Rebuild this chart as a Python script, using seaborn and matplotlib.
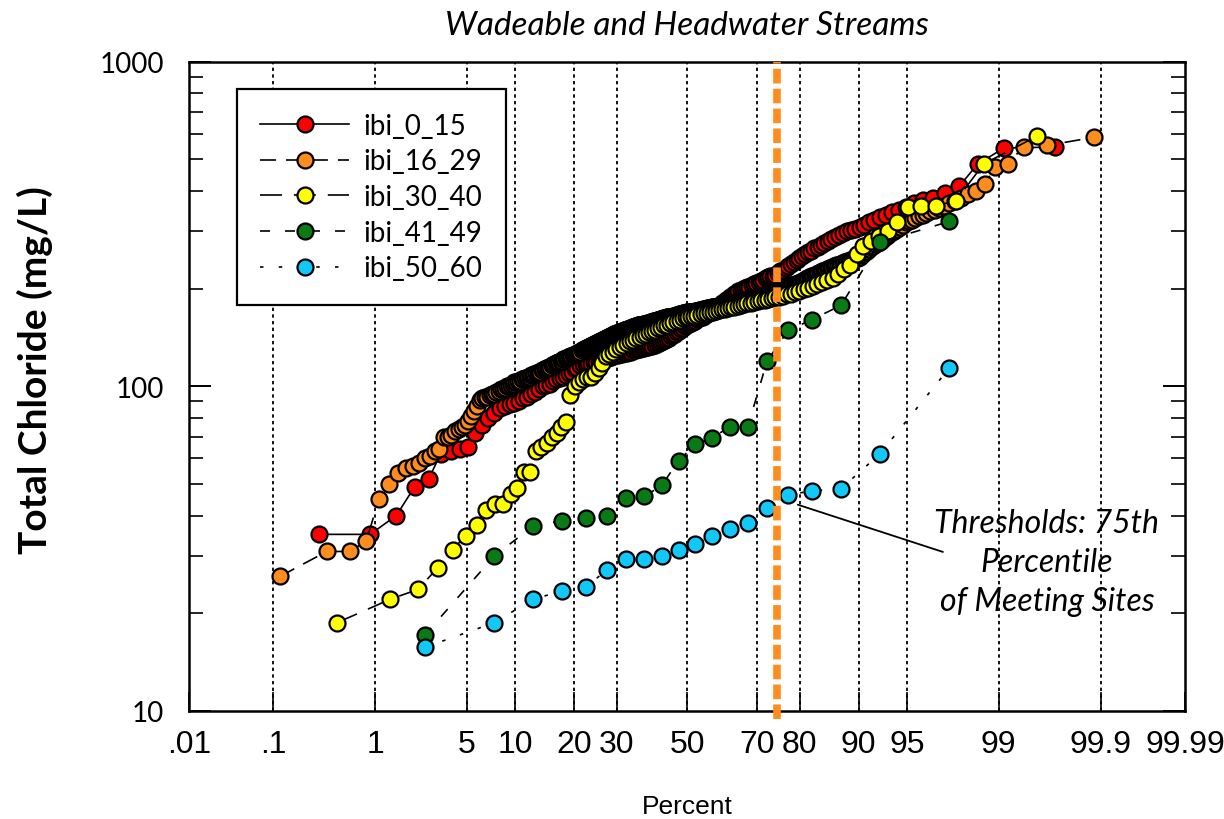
import numpy as np
import matplotlib
matplotlib.use("Agg")
import matplotlib.pyplot as plt
import seaborn as sns
from statistics import NormalDist

# Total chloride (mg/L) per IBI class, sorted sample values
ibi_0_15 = [
    35, 35, 40, 49, 52, 62, 63, 64, 65, 72, 76, 80, 83, 86, 87, 88, 89, 90, 92, 93, 95, 96, 98, 100,
    101, 102, 104, 105, 106, 107, 108, 110, 111, 113, 114, 116,
    117, 117, 118, 118, 119, 119, 120, 120, 121, 122, 122, 123, 124, 125,
    125, 126, 126, 127, 127, 128, 128, 129, 129, 130, 130, 131, 131, 132, 132, 133, 133,
    134, 135, 136, 137, 138, 139, 140, 141, 143, 144, 145, 147, 148, 150, 151, 153, 155,
    156, 157, 158, 159, 161, 162, 163, 164, 166, 167, 168, 170, 171, 172, 174, 176,
    180, 182, 184, 186, 188, 190, 192, 194, 196, 198, 200, 201, 202, 203, 205, 206, 208,
    209, 211, 213, 215, 217, 218, 219, 221,
    223, 226, 229, 232, 235, 238, 241, 245, 249,
    252, 255, 259, 262, 266, 269, 273, 277, 280, 284, 288, 292, 296, 300, 303, 306,
    309, 314, 320, 326, 332, 338, 344, 350, 358, 366, 374,
    380, 395, 414, 484, 542, 546,
]

ibi_16_29 = [
    26, 31, 31, 33.5, 45,
    50, 54, 56, 57, 58, 60, 61, 63, 64, 70, 70, 71, 73, 74, 75, 76, 78, 81, 84, 87, 91,
    92, 93, 93, 94, 95, 95, 96, 97, 98, 98, 99, 100, 100, 101, 102, 103,
    103, 104, 104, 105, 105, 106, 106, 107, 107, 108, 108, 109, 110, 110, 111, 111, 112, 112, 113, 114,
    114, 115, 115, 116, 116, 117, 118, 118, 119, 119, 120, 120, 121, 121, 122, 122, 123, 123, 124, 124,
    125, 125,
    126, 126, 127, 127, 128, 128, 129, 129, 130, 130, 131, 131, 132, 132, 133, 133, 134, 134, 135, 135,
    136, 136, 137, 137, 138, 138, 139, 139, 140, 140, 141, 141, 142, 142, 143, 143, 144, 144, 145, 145,
    145, 146,
    146, 146, 147, 147, 147, 148, 148, 148, 149, 149, 149, 150, 150, 150, 151, 151, 151, 152, 152, 152,
    153, 153, 153, 154, 154, 154, 155, 155, 155, 155, 156, 156, 156, 156, 157, 157, 157, 157, 158, 158,
    158, 158,
    159, 159, 159, 159, 160, 160, 160, 160, 161, 161, 161, 161, 162, 162, 162, 162, 163, 163, 163, 163,
    164, 164, 164, 164, 165, 165, 165, 165, 166, 166, 166, 166, 167, 167, 167, 167, 168, 168, 168, 168,
    168, 169,
    169, 169, 169, 169, 169, 170, 170, 170, 170, 170, 171, 171, 171, 171, 171, 172, 172, 172, 172, 172,
    173, 173, 173, 173, 173, 174, 174, 174, 174, 174, 175, 175, 175, 175, 175, 176, 176, 176, 176, 176,
    176, 177,
    177, 177, 177, 178, 178, 178, 178, 179, 179, 179, 179, 180, 180, 180, 180, 181, 181, 181, 181, 182,
    182, 182, 182, 183, 183, 183, 183, 184, 184, 184, 184, 185, 185, 185, 185, 186, 186, 186, 186, 187,
    187, 187,
    188, 188, 189, 189, 190, 190, 190, 191, 191, 192, 192, 193, 193, 194, 194, 195, 195, 196, 196, 197,
    197, 198, 198, 199, 199, 200, 200, 201, 201, 202, 202, 203, 203, 204, 204, 205, 205, 206, 206, 207,
    207, 208,
    209, 210, 211, 212, 213, 214, 215, 216, 217, 218, 218, 219, 220, 221, 222, 223, 224, 225, 226, 227,
    228, 229, 230, 231, 232, 233, 234, 235, 236, 237, 238, 239, 240, 241, 242, 243, 244, 245, 246, 247,
    248, 249,
    250, 253, 256, 259, 262, 265, 268, 271, 274, 277, 280, 283, 286, 290, 294, 298, 302, 306, 310, 315,
    320,
    322, 326, 330, 334, 338, 342, 346, 350, 355, 360, 366, 372, 380,
    390, 400, 420, 473, 484, 548, 552, 585,
]

ibi_30_40 = [
    18.7, 22.1, 23.7, 27.6, 31.4, 34.7, 37.3, 41.7, 43.3, 43.3, 46.5, 48.5, 54.6, 54.6, 63, 65, 67,
    70, 72, 75, 77.6, 94, 100, 103, 105, 107, 107,
    110, 114, 118, 124,
    126, 128, 130, 132, 134, 136, 138, 139, 141, 142, 144, 145, 147, 148,
    149, 151, 152, 154, 155, 157, 158, 159, 160, 162, 163,
    164, 165, 165, 166, 167, 168, 168, 169, 170, 171, 172,
    173, 173, 174, 175, 176, 177, 178, 179, 180, 181, 182,
    183, 184, 185, 186, 187, 188,
    189, 190, 192, 193, 195, 197, 199, 201, 204, 207, 210, 213,
    215, 222, 230, 236, 255, 270, 280, 290, 300, 320, 357,
    360, 360, 373, 484, 590,
]

ibi_41_49 = [17.1, 30.0, 37.1, 38.6, 39.3, 39.9, 45.2, 45.8, 49.5, 59.0,
             66.3, 69.5, 75.0, 75.0, 119.6, 148.8, 160.6, 177.7, 278, 322]

ibi_50_60 = [15.7, 18.7, 22.1, 23.4, 24.1, 27.2, 29.4, 29.4, 30.0, 31.3,
             32.7, 34.6, 36.3, 37.9, 42.3, 46.4, 47.6, 48.4, 61.9, 114]

series_names = ["ibi_0_15", "ibi_16_29", "ibi_30_40", "ibi_41_49", "ibi_50_60"]
series_values = [ibi_0_15, ibi_16_29, ibi_30_40, ibi_41_49, ibi_50_60]
face_colors = ["#FF0000", "#FF8C1E", "#FFFF00", "#0A7A14", "#12C8F8"]
line_styles = ["-", (0, (11.5, 7.2)), (0, (15.8, 8.6)), (0, (7.2, 10.8)), (0, (2.5, 11.0))]

percent_ticks = [0.01, 0.1, 1, 5, 10, 20, 30, 50, 70, 80, 90, 95, 99, 99.9, 99.99]
percent_tick_labels = [".01", ".1", "1", "5", "10", "20", "30", "50", "70", "80",
                       "90", "95", "99", "99.9", "99.99"]
threshold_percent = 75

# Normal-probability axis
_nd = NormalDist()
_ppf = np.vectorize(_nd.inv_cdf, otypes=[float])
_cdf = np.vectorize(_nd.cdf, otypes=[float])


def to_z(p):
    p = np.clip(np.asarray(p, dtype=float) / 100.0, 1e-12, 1 - 1e-12)
    return _ppf(p)


def from_z(z):
    return _cdf(np.asarray(z, dtype=float)) * 100.0


plt.rcParams["lines.scale_dashes"] = False
calibri_like = ["Lato", "DejaVu Sans"]
narrow = ["Liberation Sans", "DejaVu Sans"]

fig = plt.figure(figsize=(12.24, 8.2), dpi=100)
ax = fig.add_axes([189 / 1224, 1 - 712 / 820, (1185 - 189) / 1224, (712 - 62.7) / 820])
ax.set_xscale("function", functions=(to_z, from_z))
ax.set_yscale("log")
ax.set_xlim(0.01, 99.99)
ax.set_ylim(10, 1000)

# dotted vertical grid at the inner percent ticks
for t in percent_ticks[1:-1]:
    ax.axvline(t, color="black", lw=1.3, linestyle=(0, (2.4, 2.4)), zorder=0.5)

for k, (name, vals, fc, ls) in enumerate(zip(series_names, series_values, face_colors, line_styles)):
    v = np.sort(np.asarray(vals, dtype=float))
    n = len(v)
    pct = (np.arange(1, n + 1) - 0.5) / n * 100.0
    sns.lineplot(x=pct, y=v, ax=ax, estimator=None, sort=False,
                 color="black", lw=1.2, linestyle=ls,
                 marker="o", markersize=11.5, markerfacecolor=fc,
                 markeredgecolor="black", markeredgewidth=1.6,
                 label=name, zorder=2 + k)

# 75th percentile threshold
ax.axvline(threshold_percent, ymin=-0.012, ymax=1.0, color="#FF8C1E", lw=5.5,
           linestyle=(0, (10.5, 3.8)), zorder=10, clip_on=False)

ax.annotate("", xy=(79.6, 43.2), xytext=(97.2, 30.9),
            arrowprops=dict(arrowstyle="-", color="black", lw=1.3, shrinkA=0, shrinkB=0),
            zorder=11)
ax.text(99.64, 28.8, "Thresholds: 75th\nPercentile\nof Meeting Sites",
        ha="center", va="center", multialignment="center", fontsize=23,
        fontstyle="italic", family=calibri_like, linespacing=1.38, zorder=12)

# axes cosmetics
ax.set_xticks(percent_ticks)
ax.set_xticklabels(percent_tick_labels)
ax.set_xticks([], minor=True)
ax.tick_params(axis="x", which="major", direction="in", length=14, width=1.2, pad=13,
               labelsize=23, top=False)
for lab in ax.get_xticklabels():
    lab.set_family(narrow)

ax.set_yticks([10, 100, 1000])
ax.set_yticklabels(["10", "100", "1000"])
ax.tick_params(axis="y", which="major", direction="in", length=16, width=1.4, pad=18,
               labelsize=20, right=True)
ax.tick_params(axis="y", which="minor", direction="in", length=10, width=1.2, right=True)
for lab in ax.get_yticklabels():
    lab.set_family(calibri_like)

for s in ax.spines.values():
    s.set_linewidth(1.8)
    s.set_color("black")

ax.set_ylabel("Total Chloride (mg/L)", fontsize=28, fontweight="bold", family=calibri_like)
ax.yaxis.set_label_coords(-0.137, 0.527)
ax.set_xlabel("Percent", fontsize=19, family=narrow, labelpad=25)
ax.set_title("Wadeable and Headwater Streams", fontsize=24, fontstyle="italic",
             family=calibri_like, pad=20)

leg = ax.legend(loc="upper left", bbox_to_anchor=(0.048, 0.958), borderaxespad=0,
                frameon=True, fancybox=False, framealpha=1, edgecolor="black",
                handlelength=3.2, handletextpad=0.5, labelspacing=0.35, borderpad=0.85,
                prop={"family": calibri_like, "size": 20})
leg.get_frame().set_linewidth(1.6)

fig.savefig("out.png", dpi=100)
